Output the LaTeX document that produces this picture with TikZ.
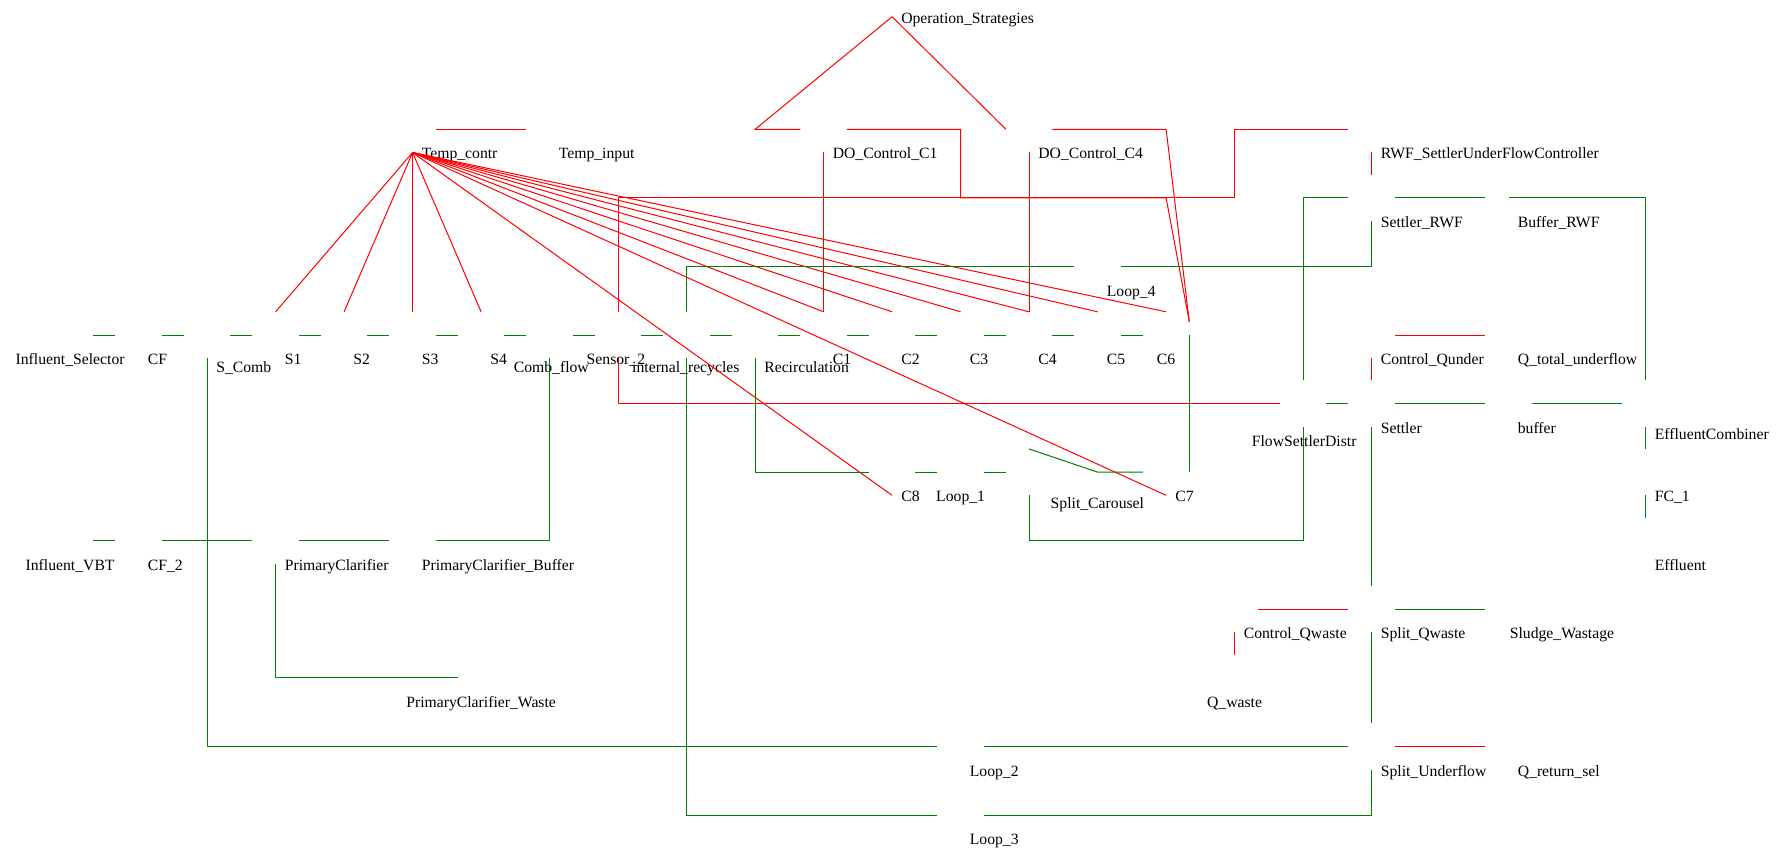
\documentclass[tikz,border=0pt]{standalone}
\usepackage{fontspec}
\setmainfont{Liberation Serif}
\usepackage{tikz}
\definecolor{flowgreen}{RGB}{0,128,0}
\definecolor{ctrlred}{RGB}{255,0,0}
\newcommand{\lblfont}{\fontsize{15.7pt}{18pt}\selectfont}

\begin{document}
\begin{tikzpicture}[x=68.5pt,y=68.57pt,
  blk/.style={minimum size=46pt,inner sep=0pt},
  lbl/.style={anchor=base west,xshift=9pt,yshift=-6.5pt,inner sep=0pt,font=\lblfont},
  lblc/.style={anchor=base,yshift=-6.5pt,inner sep=0pt,font=\lblfont},
  flow/.style={draw=flowgreen,line width=1pt},
  ctrl/.style={draw=ctrlred,line width=1pt}]
\useasboundingbox (-1.6pt,129.3pt) rectangle (1780.4pt,-720.7pt);
% blocks, top to bottom
\node[blk,label={[lbl,name=os-t]south:Operation\_Strategies}] (os) at (13,1.98) {};
\node[blk,label={[lbl,name=tc-t]south:Temp\_contr}] (tc) at (6,0) {};
\node[blk,label={[lbl,name=ti-t]south:Temp\_input}] (ti) at (8,0) {};
\node[blk,label={[lbl,name=doc1-t]south:DO\_Control\_C1}] (doc1) at (12,0) {};
\node[blk,label={[lbl,name=doc4-t]south:DO\_Control\_C4}] (doc4) at (15,0) {};
\node[blk,label={[lbl,name=rwf-t]south:RWF\_SettlerUnderFlowController}] (rwf) at (20,0) {};
\node[blk,label={[lbl,name=srwf-t]south:Settler\_RWF}] (srwf) at (20,-1) {};
\node[blk,label={[lbl,name=brwf-t]south:Buffer\_RWF}] (brwf) at (22,-1) {};
\node[blk,label={[lbl,name=loop4-t]south:Loop\_4}] (loop4) at (16,-2) {};
% main line
\node[blk,label={[lblc,name=insel-t]south:Influent\_Selector}] (insel) at (1,-3) {};
\node[blk,label={[lbl,name=cf-t]south:CF}] (cf) at (2,-3) {};
\node[blk,label={[lbl,yshift=-7.7pt,name=scomb-t]south:S\_Comb}] (scomb) at (3,-3) {};
\node[blk,label={[lbl,name=s1-t]south:S1}] (s1) at (4,-3) {};
\node[blk,label={[lbl,name=s2-t]south:S2}] (s2) at (5,-3) {};
\node[blk,label={[lbl,name=s3-t]south:S3}] (s3) at (6,-3) {};
\node[blk,label={[lbl,name=s4-t]south:S4}] (s4) at (7,-3) {};
\node[blk,label={[lbl,xshift=-45pt,yshift=-7.7pt,name=combf-t]south:Comb\_flow}] (combf) at (8,-3) {};
\node[blk,label={[lbl,xshift=-40.6pt,name=sen-t]south:Sensor\_2}] (sen) at (9,-3) {};
\node[blk,label={[lbl,xshift=-63.6pt,yshift=-7.7pt,name=irec-t]south:internal\_recycles}] (irec) at (10,-3) {};
\node[blk,label={[lbl,yshift=-7.7pt,name=recirc-t]south:Recirculation}] (recirc) at (11,-3) {};
\node[blk,label={[lbl,name=c1-t]south:C1}] (c1) at (12,-3) {};
\node[blk,label={[lbl,name=c2-t]south:C2}] (c2) at (13,-3) {};
\node[blk,label={[lbl,name=c3-t]south:C3}] (c3) at (14,-3) {};
\node[blk,label={[lbl,name=c4-t]south:C4}] (c4) at (15,-3) {};
\node[blk,label={[lbl,name=c5-t]south:C5}] (c5) at (16,-3) {};
\node[blk,label={[lbl,xshift=-18.4pt,name=c6-t]south:C6}] (c6) at (17,-3) {};
\node[blk,label={[lbl,name=cqu-t]south:Control\_Qunder}] (cqu) at (20,-3) {};
\node[blk,label={[lbl,name=qtu-t]south:Q\_total\_underflow}] (qtu) at (22,-3) {};
% settler part
\node[blk,label={[lbl,xshift=-60.5pt,yshift=-13.4pt,name=fsd-t]south:FlowSettlerDistr}] (fsd) at (19,-4) {};
\node[blk,label={[lbl,name=settler-t]south:Settler}] (settler) at (20,-4) {};
\node[blk,label={[lbl,name=buf-t]south:buffer}] (buf) at (22,-4) {};
\node[blk,label={[lbl,yshift=-6.4pt,name=ecomb-t]south:EffluentCombiner}] (ecomb) at (24,-4) {};
\node[blk,label={[lbl,name=c8-t]south:C8}] (c8) at (13,-5) {};
\node[blk,label={[lbl,xshift=-33.6pt,name=loop1-t]south:Loop\_1}] (loop1) at (14,-5) {};
\node[blk,label={[lbl,xshift=12.4pt,yshift=-6.8pt,name=scar-t]south:Split\_Carousel}] (scar) at (15,-5) {};
\node[blk,label={[lbl,name=c7-t]south:C7}] (c7) at (17,-5) {};
\node[blk,label={[lbl,name=fc1-t]south:FC\_1}] (fc1) at (24,-5) {};
% influent and primary clarifier
\node[blk,label={[lblc,name=invbt-t]south:Influent\_VBT}] (invbt) at (1,-6) {};
\node[blk,label={[lbl,name=cf2-t]south:CF\_2}] (cf2) at (2,-6) {};
\node[blk,label={[lbl,name=pc-t]south:PrimaryClarifier}] (pc) at (4,-6) {};
\node[blk,label={[lbl,name=pcb-t]south:PrimaryClarifier\_Buffer}] (pcb) at (6,-6) {};
\node[blk,label={[lbl,name=eff-t]south:Effluent}] (eff) at (24,-6) {};
\node[blk,label={[lbl,name=cqw-t]south:Control\_Qwaste}] (cqw) at (18,-7) {};
\node[blk,label={[lbl,name=sqw-t]south:Split\_Qwaste}] (sqw) at (20,-7) {};
\node[blk,label={[lbl,xshift=-8pt,name=sludge-t]south:Sludge\_Wastage}] (sludge) at (22,-7) {};
\node[blk,label={[lblc,name=pcw-t]south:PrimaryClarifier\_Waste}] (pcw) at (7,-8) {};
\node[blk,label={[lblc,name=qw-t]south:Q\_waste}] (qw) at (18,-8) {};
\node[blk,label={[lbl,name=loop2-t]south:Loop\_2}] (loop2) at (14,-9) {};
\node[blk,label={[lbl,name=su-t]south:Split\_Underflow}] (su) at (20,-9) {};
\node[blk,label={[lbl,name=qret-t]south:Q\_return\_sel}] (qret) at (22,-9) {};
\node[blk,label={[lbl,name=loop3-t]south:Loop\_3}] (loop3) at (14,-10) {};
\coordinate (c6-in) at ([yshift=13.3pt]c6.east);

% control signals
\draw[ctrl] (os.south) -- (recirc |- doc1) -- (doc1.west);
\draw[ctrl] (os.south) -- (doc4.west);
\draw[ctrl] (tc.east) -- (ti.west);
\foreach \t in {s1,s2,s3,s4,c1,c2,c3,c4,c5,c6}
  \draw[ctrl] (tc.south) -- (\t.north);
\draw[ctrl] (tc.south) -- (c8.south);
\draw[ctrl] (tc.south) -- (c7.south);
\draw[ctrl] (doc1.south) -- (c1.north);
\draw[ctrl] (doc4.south) -- (c4.north);
\draw[ctrl] (doc1.east) -- (c3 |- doc1) -- (c3 |- srwf) -- (c6 |- srwf) -- (c6-in);
\draw[ctrl] (doc4.east) -- (c6 |- doc4) -- (c6-in);
\draw[ctrl] (sen.north) |- (cqw |- srwf) |- (rwf.west);
\draw[ctrl] (sen.south) |- (fsd.west);
\draw[ctrl] (rwf.south) -- (srwf.north);
\draw[ctrl] (cqu.south) -- (settler.north);
\draw[ctrl] (cqu.east) -- (qtu.west);
\draw[ctrl] (cqw.east) -- (sqw.west);
\draw[ctrl] (cqw.south) -- (qw.north);
\draw[ctrl] (su.east) -- (qret.west);

% flows
\draw[flow] (insel.east) -- (cf.west) (cf.east) -- (scomb.west)
  (scomb.east) -- (s1.west) (s1.east) -- (s2.west) (s2.east) -- (s3.west)
  (s3.east) -- (s4.west) (s4.east) -- (combf.west) (combf.east) -- (sen.west)
  (sen.east) -- (irec.west) (irec.east) -- (recirc.west) (recirc.east) -- (c1.west)
  (c1.east) -- (c2.west) (c2.east) -- (c3.west) (c3.east) -- (c4.west)
  (c4.east) -- (c5.west) (c5.east) -- (c6.west);
\draw[flow] (c6.east) -- (c7.east);
\draw[flow] (invbt.east) -- (cf2.west) (cf2.east) -- (pc.west) (pc.east) -- (pcb.west);
\draw[flow] (pcb.east) -| (combf.south);
\draw[flow] (scomb.south) |- (loop2.west);
\draw[flow] (pc.south) |- (pcw.west);
\draw[flow] (irec.south) |- (loop3.west);
\draw[flow] (irec.north) |- (loop4.west);
\draw[flow] (loop4.east) -| (srwf.south);
\draw[flow] (recirc.south) |- (c8.west);
\draw[flow] (c8.east) -- (loop1.west) (loop1.east) -- (scar.west);
\draw[flow] (c7.west) -- (c5 |- c7) -- (scar.north);
\draw[flow] (scar.south) -- (scar |- eff) -| (fsd.south);
\draw[flow] (fsd.north) |- (srwf.west);
\draw[flow] (fsd.east) -- (settler.west);
\draw[flow] (settler.east) -- (buf.west);
\draw[flow] (buf.east) -- (ecomb.west);
\draw[flow] (srwf.east) -- (brwf.west);
\draw[flow] (brwf.center) -| (ecomb.north);
\draw[flow] (ecomb.south) -- (fc1.north);
\draw[flow] (fc1.south) -- (eff.north);
\draw[flow] (settler.south) -- (sqw.north);
\draw[flow] (sqw.east) -- (sludge.west);
\draw[flow] (sqw.south) -- (su.north);
\draw[flow] (su.south) |- (loop3.east);
\draw[flow] (loop2.east) -- (su.west);
\end{tikzpicture}
\end{document}
